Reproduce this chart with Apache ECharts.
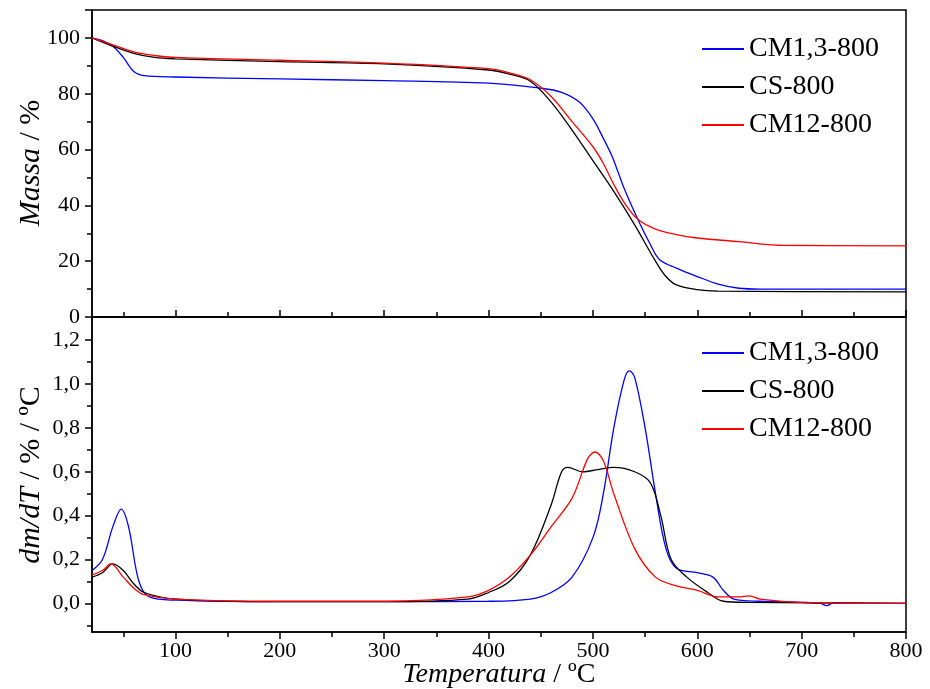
<!DOCTYPE html>
<html><head><meta charset="utf-8">
<script src="https://cdn.jsdelivr.net/npm/echarts@6/dist/echarts.min.js"></script>
<style>html,body{margin:0;background:#fff}#c{width:930px;height:689px}</style>
</head><body><div id="c"></div>
<script>
// TG curves (massa %), [T, value]
const tgBlue = [[20,100],[30,99],[40,97],[50,93],[60,88],[70,86.5],[100,86],[200,85.3],[300,84.7],[400,83.8],[450,82],[470,80.5],[487,77],[500,71],[510,64],[519,57],[530,46],[543,35],[555,26],[564,20.5],[580,17.5],[600,14.5],[620,11.8],[640,10.3],[660,10],[800,10]];
const tgBlack = [[20,100],[40,97],[60,94.5],[80,93],[100,92.5],[200,91.5],[300,90.7],[400,88.5],[420,87],[440,84.5],[460,77],[480,67],[500,56],[520,45],[540,33],[560,20],[570,14.5],[580,11.5],[600,9.8],[620,9.3],[800,9]];
const tgRed = [[20,100],[40,97.5],[60,95],[80,93.7],[100,93],[200,92],[300,91],[400,89],[420,87.5],[440,85],[460,79],[480,70],[500,61],[510,55],[520,47.5],[530,41],[543,35],[560,31.5],[580,29.5],[600,28.3],[640,27],[680,25.7],[800,25.5]];
// DTG curves
const dtgBlue = [[20,0.15],[30,0.2],[40,0.35],[48,0.43],[55,0.35],[65,0.1],[75,0.03],[100,0.015],[200,0.008],[300,0.008],[400,0.01],[440,0.02],[460,0.05],[480,0.12],[500,0.3],[510,0.5],[520,0.8],[530,1.02],[535,1.06],[540,1.03],[550,0.8],[560,0.5],[570,0.25],[580,0.16],[600,0.14],[615,0.12],[625,0.06],[635,0.02],[660,0.01],[700,0.005],[718,0.0],[724,-0.01],[730,0.002],[800,0]];
const dtgBlack = [[20,0.12],[30,0.14],[40,0.18],[50,0.15],[60,0.09],[70,0.05],[100,0.02],[200,0.008],[300,0.008],[380,0.02],[400,0.05],[420,0.1],[440,0.22],[460,0.45],[470,0.6],[476,0.62],[490,0.6],[505,0.61],[520,0.62],[540,0.6],[555,0.55],[565,0.4],[575,0.2],[590,0.12],[610,0.05],[625,0.01],[650,0.005],[800,0]];
const dtgRed = [[20,0.13],[30,0.15],[38,0.18],[50,0.12],[60,0.07],[70,0.04],[100,0.02],[200,0.01],[300,0.01],[380,0.03],[400,0.06],[420,0.12],[440,0.22],[460,0.35],[480,0.48],[495,0.66],[502,0.69],[510,0.65],[520,0.5],[540,0.25],[560,0.12],[580,0.08],[600,0.06],[620,0.03],[640,0.03],[650,0.035],[660,0.02],[700,0.005],[800,0]];
const names = ['CM1,3-800','CS-800','CM12-800'];
const colors = ['#0000ff','#000000','#ff0000'];
const xMajor = [100,200,300,400,500,600,700,800];
const xMinor = [50,150,250,350,450,550,650,750];
const dtgMajor = [0,0.2,0.4,0.6,0.8,1.0,1.2];
const dtgMinor = [-0.1,0.1,0.3,0.5,0.7,0.9,1.1];

const F = 'Liberation Serif';
const ax = {onZero:false,lineStyle:{color:'#000',width:1.5}};
const chart = echarts.init(document.getElementById('c'));
const xBase = (g, labels, inside) => ({
  type:'value', gridIndex:g, min:20, max:800, position:'bottom',
  axisLine:ax, splitLine:{show:false},
  axisTick:{customValues:xMajor, inside:inside, length:7, lineStyle:{color:'#000',width:1.5}},
  axisLabel:{show:labels, customValues:xMajor, color:'#000', fontFamily:F, fontSize:22, margin:8}
});
const xMinorAx = (g, inside) => ({
  type:'value', gridIndex:g, min:20, max:800, position:'bottom',
  axisLine:{show:false,onZero:false}, splitLine:{show:false}, axisLabel:{show:false},
  axisTick:{show:true, customValues:xMinor, inside:inside, length:5, lineStyle:{color:'#000',width:1.5}}
});
const legend = top => ({orient:'vertical',left:697,top:top,itemGap:10,itemWidth:42,itemHeight:2,data:names,
  icon:'rect',textStyle:{fontFamily:F,fontSize:28,color:'#000'}});
const title = (x, y, rot, it, rest, fs) => ({
  type:'text', x:x, y:y, rotation:rot,
  style:{text:'{i|'+it+'}'+rest, fontFamily:F, fontSize:fs, fill:'#000', align:'center', verticalAlign:'middle',
    rich:{i:{fontFamily:F,fontSize:fs,fontStyle:'italic',fill:'#000'}}}
});
chart.setOption({
  animation:false,
  grid:[
    {left:92,right:24,top:10,height:307,show:true,borderColor:'#000',borderWidth:1.5,outerBoundsMode:'none'},
    {left:92,right:24,top:317,height:315,show:true,borderColor:'#000',borderWidth:1.5,outerBoundsMode:'none'}
  ],
  legend:[legend(30), legend(334)],
  graphic:[
    title(499,675,0,'Temperatura',' / ºC',28),
    title(31,163,Math.PI/2,'Massa',' / %',30),
    title(31,475,Math.PI/2,'dm/dT',' / % / ºC',30)
  ],
  xAxis:[
    xBase(0,false,true), xMinorAx(0,true),
    xBase(1,true,false), xMinorAx(1,false)
  ],
  yAxis:[
    {type:'value',gridIndex:0,min:0,max:110,interval:20,axisLine:ax,splitLine:{show:false},
     axisTick:{length:7,lineStyle:{color:'#000',width:1.5}},minorTick:{show:true,splitNumber:2,length:5,lineStyle:{color:'#000',width:1.5}},
     axisLabel:{color:'#000',fontFamily:F,fontSize:22,showMaxLabel:false,margin:12}},
    {type:'value',gridIndex:1,min:-0.13,max:1.305,axisLine:ax,splitLine:{show:false},
     axisTick:{customValues:dtgMajor,length:7,lineStyle:{color:'#000',width:1.5}},
     axisLabel:{customValues:dtgMajor,color:'#000',fontFamily:F,fontSize:22,margin:12,
       formatter:v=>v.toFixed(1).replace('.',',')}},
    {type:'value',gridIndex:1,position:'left',min:-0.13,max:1.305,axisLine:{show:false,onZero:false},splitLine:{show:false},axisLabel:{show:false},
     axisTick:{show:true,customValues:dtgMinor,length:5,lineStyle:{color:'#000',width:1.5}}}
  ],
  series:[
    [tgBlue,0,0,0],[tgBlack,1,0,0],[tgRed,2,0,0],
    [dtgBlue,0,2,1],[dtgBlack,1,2,1],[dtgRed,2,2,1]
  ].map(([d,i,xi,yi])=>({
    type:'line',name:names[i],data:d,xAxisIndex:xi,yAxisIndex:yi,smooth:0.35,
    showSymbol:false,symbol:'none',lineStyle:{color:colors[i],width:1.3},itemStyle:{color:colors[i]}
  }))
});
</script></body></html>
